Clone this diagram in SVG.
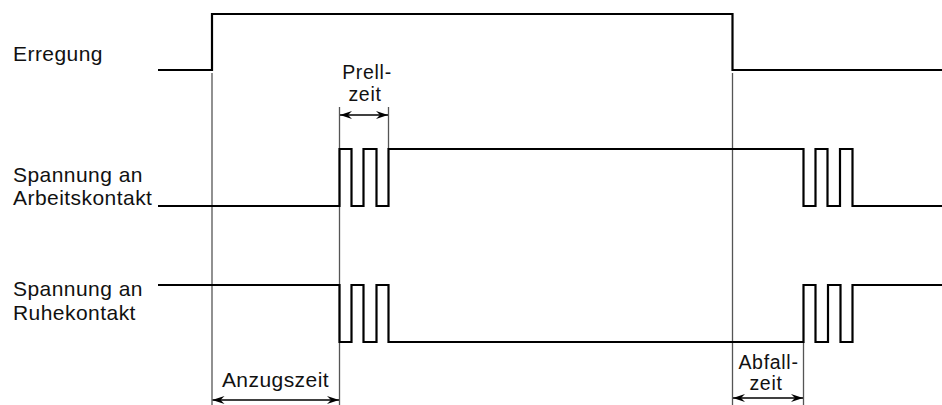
<svg xmlns="http://www.w3.org/2000/svg" width="942" height="405" viewBox="0 0 942 405">
<style>
.sig{fill:none;stroke:#000;stroke-width:2.2;stroke-linejoin:miter}
.ref{fill:none;stroke:#555;stroke-width:1.3}
.dim{fill:none;stroke:#000;stroke-width:1.6}
text{font-family:"Liberation Sans",Arial,sans-serif;font-size:21px;fill:#111;letter-spacing:0.45px}
.c{text-anchor:middle}
.s{font-size:19.5px;letter-spacing:0.7px}
</style>
<defs>
<marker id="ah" viewBox="0 0 12 8" refX="12" refY="4" markerWidth="12" markerHeight="8" markerUnits="userSpaceOnUse" orient="auto-start-reverse">
<path d="M0,0 L12,4 L0,8 L4,4 Z" fill="#000"/>
</marker>
</defs>
<rect width="942" height="405" fill="#fff"/>
<g id="labels">
<text x="13" y="61">Erregung</text>
<text x="13" y="182">Spannung an</text>
<text x="13" y="205">Arbeitskontakt</text>
<text x="13" y="296">Spannung an</text>
<text x="13" y="320">Ruhekontakt</text>
</g>
<g id="connectors">
<path class="ref" d="M212,73 V405"/>
<path class="ref" d="M339.5,107 V405"/>
<path class="ref" d="M388.5,107 V149"/>
<path class="ref" d="M732.5,73 V405"/>
<path class="ref" d="M803.5,342 V405"/>
</g>
<g id="erregung">
<path class="sig" d="M158,70 H212 V14 H732.5 V70 H942"/>
</g>
<g id="arbeitskontakt">
<path class="sig" d="M158,206 H339.5 V149 H351.5 V206 H363.5 V149 H376.5 V206 H388.5 V149 H803.5 V206 H815.5 V149 H827.5 V206 H840 V149 H852.5 V206 H942"/>
</g>
<g id="ruhekontakt">
<path class="sig" d="M158,285 H339.5 V342 H351.5 V285 H363.5 V342 H376.5 V285 H388.5 V342 H803.5 V285 H815.5 V342 H828 V285 H840.5 V342 H852.5 V285 H942"/>
</g>
<g id="prellzeit">
<path class="dim" d="M340,115 H388" marker-start="url(#ah)" marker-end="url(#ah)"/>
<text class="c s" x="367" y="79">Prell-</text>
<text class="c s" x="365" y="101">zeit</text>
</g>
<g id="anzugszeit">
<path class="dim" d="M212.5,400 H339" marker-start="url(#ah)" marker-end="url(#ah)"/>
<text class="c" x="275.5" y="387">Anzugszeit</text>
</g>
<g id="abfallzeit">
<path class="dim" d="M733,398 H803" marker-start="url(#ah)" marker-end="url(#ah)"/>
<text class="c s" x="768.5" y="369">Abfall-</text>
<text class="c s" x="766" y="390">zeit</text>
</g>
</svg>
